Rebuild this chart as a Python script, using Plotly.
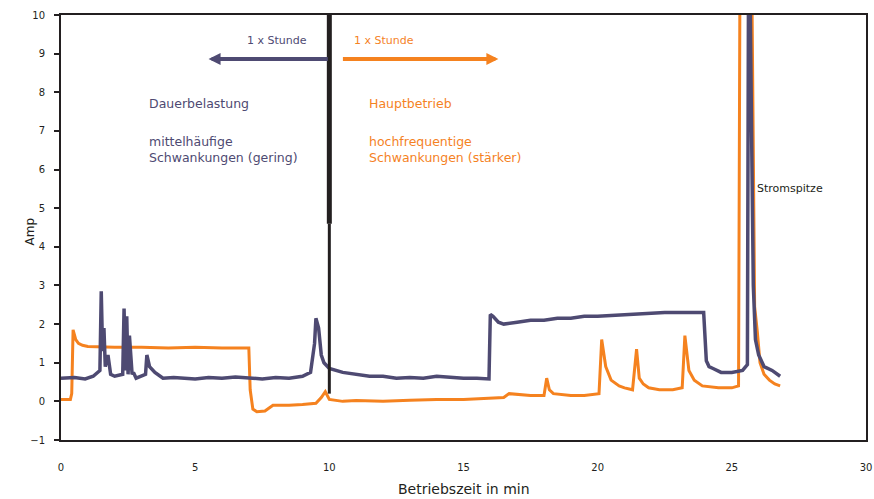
import plotly.graph_objects as go

# Purple series (Dauerbetrieb)
purple_x = [0, 0.5, 0.9, 1.2, 1.45, 1.5, 1.55, 1.6, 1.65, 1.75, 1.85, 2.0, 2.3, 2.35, 2.4, 2.45, 2.5, 2.55,
            2.65, 2.7, 2.8, 3.0, 3.15, 3.2, 3.3, 3.5, 3.8, 4.2, 4.5, 5.0, 5.5, 6.0, 6.5, 7.0, 7.5, 8.0, 8.5,
            9.0, 9.3, 9.45, 9.5, 9.6, 9.7, 9.8, 10.0, 10.5, 11.0, 11.5, 12.0, 12.5, 13.0, 13.5, 14.0, 14.5,
            15.0, 15.5, 15.95, 16.0, 16.1, 16.3, 16.5, 17.0, 17.5, 18.0, 18.5, 19.0, 19.5, 20.0, 20.5, 21.0,
            21.5, 22.0, 22.5, 23.0, 23.5, 23.95, 24.05, 24.15, 24.3, 24.6, 25.0, 25.4, 25.58, 25.62, 25.68,
            25.72, 25.8, 25.88, 26.0, 26.2, 26.5, 26.8]
purple_y = [0.6, 0.62, 0.58, 0.65, 0.8, 2.85, 1.3, 1.9, 0.9, 1.2, 0.7, 0.65, 0.7, 2.4, 0.8, 2.2, 0.7, 1.7,
            0.7, 0.75, 0.6, 0.65, 0.7, 1.2, 0.9, 0.75, 0.6, 0.62, 0.6, 0.58, 0.62, 0.6, 0.63, 0.6, 0.58, 0.62,
            0.6, 0.65, 0.75, 1.5, 2.15, 1.9, 1.2, 1.0, 0.85, 0.75, 0.7, 0.65, 0.65, 0.6, 0.62, 0.6, 0.65,
            0.62, 0.6, 0.6, 0.58, 2.25, 2.2, 2.05, 2.0, 2.05, 2.1, 2.1, 2.15, 2.15, 2.2, 2.2, 2.22, 2.25,
            2.25, 2.28, 2.3, 2.3, 2.3, 2.3, 1.05, 0.9, 0.85, 0.75, 0.75, 0.8, 0.95, 10.5, 10.5,
            8.0, 3.0, 1.6, 1.2, 0.9, 0.8, 0.65]

# Orange series
orange_x = [0, 0.35, 0.4, 0.45, 0.55, 0.65, 0.8, 1.0, 2.0, 3.0, 4.0, 5.0, 6.0, 7.0, 7.05, 7.15, 7.3, 7.6,
            7.9, 8.5, 9.0, 9.5, 9.7, 9.85, 10.0, 10.5, 11.0, 12.0, 13.0, 14.0, 15.0, 16.0, 16.5, 16.7, 17.0,
            17.5, 18.0, 18.1, 18.2, 18.35, 19.0, 19.5, 20.05, 20.15, 20.3, 20.5, 20.8, 21.0, 21.3, 21.45,
            21.55, 21.7, 21.9, 22.3, 22.8, 23.15, 23.25, 23.4, 23.6, 23.9, 24.5, 25.0, 25.25, 25.3, 25.75,
            25.85, 25.95, 26.05, 26.2, 26.4, 26.6, 26.8]
orange_y = [0.05, 0.05, 0.2, 1.85, 1.6, 1.5, 1.45, 1.42, 1.4, 1.4, 1.38, 1.4, 1.38, 1.38, 0.3, -0.2, -0.27,
            -0.25, -0.1, -0.1, -0.08, -0.05, 0.1, 0.25, 0.05, 0.0, 0.02, 0.0, 0.03, 0.05, 0.05, 0.08, 0.1,
            0.2, 0.18, 0.15, 0.15, 0.6, 0.3, 0.2, 0.15, 0.15, 0.2, 1.6, 0.9, 0.55, 0.4, 0.35, 0.3, 1.35,
            0.6, 0.45, 0.35, 0.3, 0.3, 0.35, 1.7, 0.8, 0.55, 0.4, 0.35, 0.35, 0.4, 10.5, 10.5,
            2.45, 1.8, 1.0, 0.7, 0.55, 0.45, 0.4]

x_ticks = [0, 5, 10, 15, 20, 25, 30]
y_ticks = [-1, 0, 1, 2, 3, 4, 5, 6, 7, 8, 9, 10]

PURPLE = "#4e4a72"
ORANGE = "#f5821f"
BLACK = "#231f20"
FONT = "DejaVu Sans"

fig = go.Figure()
fig.add_trace(go.Scatter(x=orange_x, y=orange_y, mode="lines",
                         line=dict(color=ORANGE, width=3), showlegend=False))
fig.add_trace(go.Scatter(x=purple_x, y=purple_y, mode="lines",
                         line=dict(color=PURPLE, width=3.5), showlegend=False))

# vertical divider at 10 min
fig.add_shape(type="line", x0=10, x1=10, y0=4.6, y1=10, line=dict(color=BLACK, width=5))
fig.add_shape(type="line", x0=10, x1=10, y0=0.2, y1=4.6, line=dict(color=BLACK, width=3))

ann = []
# arrows
ann.append(dict(x=5.5, y=8.86, ax=10.0, ay=8.86, xref="x", yref="y", axref="x", ayref="y",
                showarrow=True, arrowhead=2, arrowsize=0.6, arrowwidth=4, arrowcolor=PURPLE, text=""))
ann.append(dict(x=16.3, y=8.86, ax=10.45, ay=8.86, xref="x", yref="y", axref="x", ayref="y",
                showarrow=True, arrowhead=2, arrowsize=0.6, arrowwidth=4, arrowcolor=ORANGE, text=""))
ann.append(dict(x=8.05, y=9.33, text="1 x Stunde", showarrow=False,
                font=dict(color=PURPLE, size=11, family=FONT)))
ann.append(dict(x=12.05, y=9.33, text="1 x Stunde", showarrow=False,
                font=dict(color=ORANGE, size=11, family=FONT)))
ann.append(dict(x=3.2, y=7.72, text="Dauerbelastung", showarrow=False, xanchor="left",
                font=dict(color=PURPLE, size=12.5, family=FONT)))
ann.append(dict(x=3.2, y=6.52, text="mittelhäufige<br>Schwankungen (gering)", showarrow=False,
                xanchor="left", align="left", font=dict(color=PURPLE, size=12.5, family=FONT)))
ann.append(dict(x=11.4, y=7.72, text="Hauptbetrieb", showarrow=False, xanchor="left",
                font=dict(color=ORANGE, size=12.5, family=FONT)))
ann.append(dict(x=11.4, y=6.52, text="hochfrequentige<br>Schwankungen (stärker)", showarrow=False,
                xanchor="left", align="left", font=dict(color=ORANGE, size=12.5, family=FONT)))
ann.append(dict(x=25.85, y=5.5, text="Stromspitze", showarrow=False, xanchor="left",
                font=dict(color=BLACK, size=11, family=FONT)))
# axis titles
ann.append(dict(x=0.5, y=-0.115, xref="paper", yref="paper", yanchor="middle",
                text="Betriebszeit in min", showarrow=False,
                font=dict(color=BLACK, size=14, family=FONT)))
ann.append(dict(x=-0.05, y=0.49, xref="paper", yref="paper", textangle=-90,
                text="Amp", showarrow=False,
                font=dict(color=BLACK, size=12, family=FONT)))

fig.update_layout(
    width=874, height=499,
    margin=dict(l=61, r=8, t=15, b=59, autoexpand=False),
    paper_bgcolor="white", plot_bgcolor="white",
    font=dict(family=FONT, color=BLACK, size=10),
    annotations=ann,
    xaxis=dict(range=[0, 30], tickvals=x_ticks, showgrid=False, zeroline=False,
               showline=True, linecolor=BLACK, linewidth=2, mirror=True, automargin=False,
               ticks="", ticklabelstandoff=17, ticklabeloverflow="allow",
               tickfont=dict(size=10, family=FONT)),
    yaxis=dict(range=[-1, 10], tickvals=y_ticks, showgrid=False, zeroline=False,
               showline=True, linecolor=BLACK, linewidth=2, mirror=True, automargin=False,
               ticks="outside", ticklen=5, tickcolor=BLACK, tickwidth=2,
               ticklabelstandoff=7, tickfont=dict(size=10, family=FONT)),
)

fig.write_html("out.html", config={"displayModeBar": False},
               post_script="document.body.style.margin='0';")
